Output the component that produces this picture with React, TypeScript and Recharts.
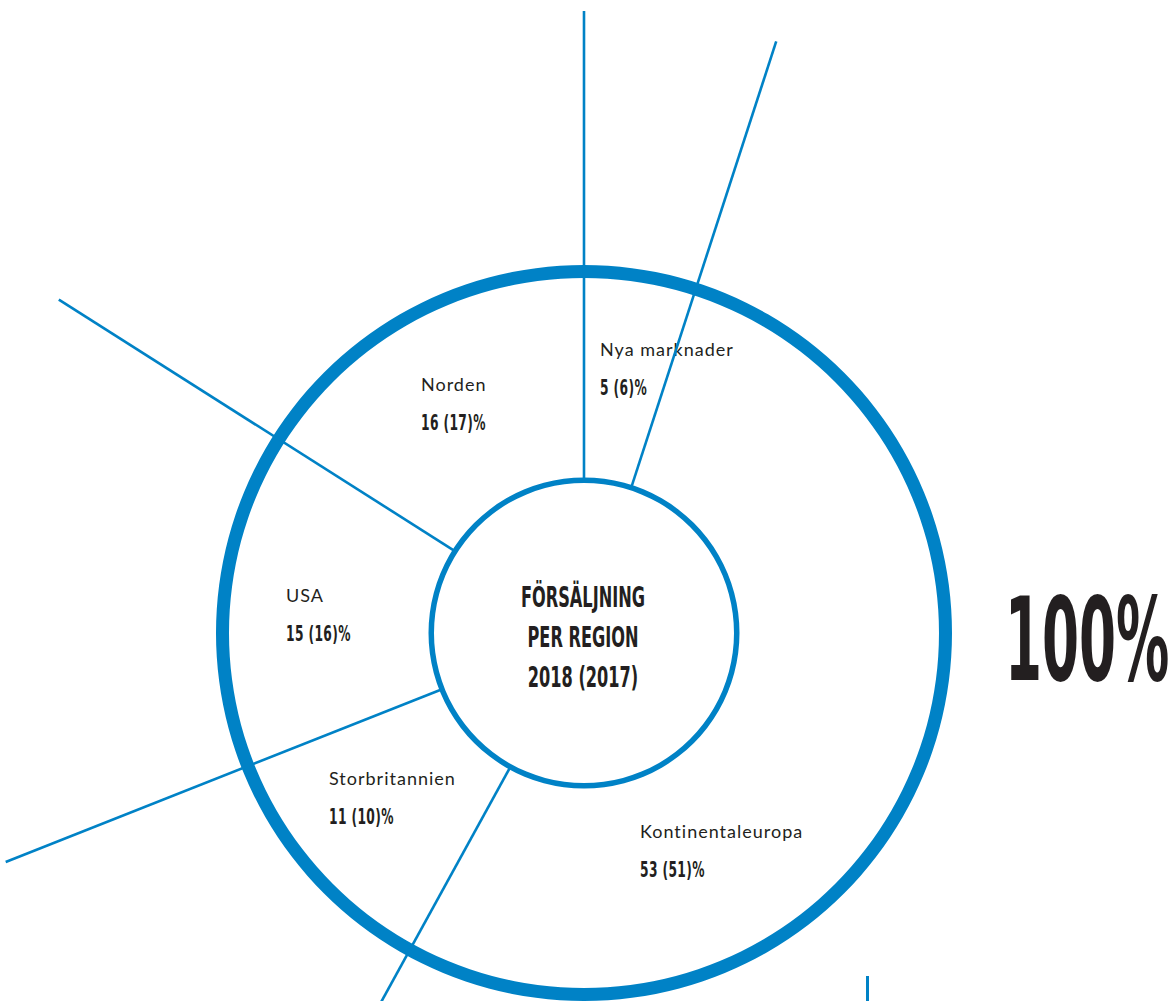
import React from 'react';
import { PieChart, Pie, Cell } from 'recharts';

// ---- data ----
const regions = ['Nya marknader', 'Kontinentaleuropa', 'Storbritannien', 'USA', 'Norden'];
const share2018 = [5, 53, 11, 15, 16];
const share2017 = [6, 51, 10, 16, 17];
const centerTitle = ['FÖRSÄLJNING', 'PER REGION', '2018 (2017)'];
const totalLabel = '100%';

const data = regions.map((name, i) => ({ name, value: share2018[i], prev: share2017[i] }));
const ringData = [{ name: 'total', value: 100 }];

// ---- layout / style ----
const W = 1173;
const H = 1001;
const CX = 584;
const CY = 633;
const BLUE = '#0082c6';
const INK = '#231f20';
const INNER_R = 152;
const LINE_R = 622;
const COND = '"DejaVu Sans Condensed", "DejaVu Sans", sans-serif';
const SANS = 'Lato, "Open Sans", sans-serif';

// label anchor offsets from the pie centre (left x, baseline y of name)
const labelOffsets = [
  [16, -277],
  [56, 205],
  [-255, 152],
  [-298, -31],
  [-163, -242],
];

const RAD = Math.PI / 180;
const polar = (cx: number, cy: number, r: number, a: number) => ({
  x: cx + r * Math.cos(-a * RAD),
  y: cy + r * Math.sin(-a * RAD),
});

const renderRegion = (props: any) => {
  const { cx, cy, startAngle, index, payload } = props;
  const p0 = polar(cx, cy, INNER_R, startAngle);
  const p1 = polar(cx, cy, LINE_R, startAngle);
  const [dx, dy] = labelOffsets[index];
  const lx = cx + dx;
  const ly = cy + dy;
  const item = payload && payload.name ? payload : data[index];
  return (
    <g key={`lbl-${index}`}>
      <line x1={p0.x} y1={p0.y} x2={p1.x} y2={p1.y} stroke={BLUE} strokeWidth={2.6} />
      <text x={lx} y={ly} fill={INK} fontFamily={SANS} fontSize={18} letterSpacing={1}>
        {item.name}
      </text>
      <text
        transform={`translate(${lx},${ly + 39}) scale(0.62,1)`}
        x={0}
        y={0}
        fill={INK}
        fontFamily={COND}
        fontWeight="bold"
        fontSize={22}
        letterSpacing={0.6}
      >
        {`${item.value} (${item.prev})%`}
      </text>
    </g>
  );
};

const renderCenter = (props: any) => {
  const { cx, cy } = props;
  return (
    <g key="center">
      {centerTitle.map((t, i) => (
        <text
          key={t}
          transform={`translate(${cx - 1},${cy - 26 + i * 40}) scale(0.62,1)`}
          x={0}
          y={0}
          textAnchor="middle"
          fill={INK}
          fontFamily={COND}
          fontWeight="bold"
          fontSize={29}
        >
          {t}
        </text>
      ))}
      <text
        transform={`translate(${cx + 421},${cy + 47}) scale(0.51,1)`}
        x={0}
        y={0}
        fill={INK}
        fontFamily={COND}
        fontWeight="bold"
        fontSize={116}
      >
        {totalLabel}
      </text>
    </g>
  );
};

export default function App() {
  return (
    <div style={{ position: 'absolute', left: 0, top: 0, width: W, height: H, overflow: 'hidden', background: '#fff' }}>
      <PieChart width={W} height={H} margin={{ top: 0, right: 0, bottom: 0, left: 0 }}>
        <Pie
          data={data}
          dataKey="value"
          cx={CX}
          cy={CY}
          startAngle={90}
          endAngle={-270}
          innerRadius={INNER_R}
          outerRadius={LINE_R}
          fill="none"
          stroke="none"
          label={renderRegion}
          labelLine={false}
          isAnimationActive={false}
        >
          {data.map((d) => (
            <Cell key={d.name} fill="none" stroke="none" />
          ))}
        </Pie>
        <Pie
          data={ringData}
          dataKey="value"
          cx={CX}
          cy={CY}
          startAngle={90}
          endAngle={-270}
          innerRadius={355}
          outerRadius={368}
          fill={BLUE}
          stroke="none"
          label={renderCenter}
          labelLine={false}
          isAnimationActive={false}
        />
        <Pie
          data={ringData}
          dataKey="value"
          cx={CX}
          cy={CY}
          startAngle={90}
          endAngle={-270}
          innerRadius={150}
          outerRadius={155.5}
          fill={BLUE}
          stroke="none"
          isAnimationActive={false}
        />
      </PieChart>
      <div style={{ position: 'absolute', left: 866, top: 976, width: 3, height: 25, background: BLUE }} />
    </div>
  );
}
